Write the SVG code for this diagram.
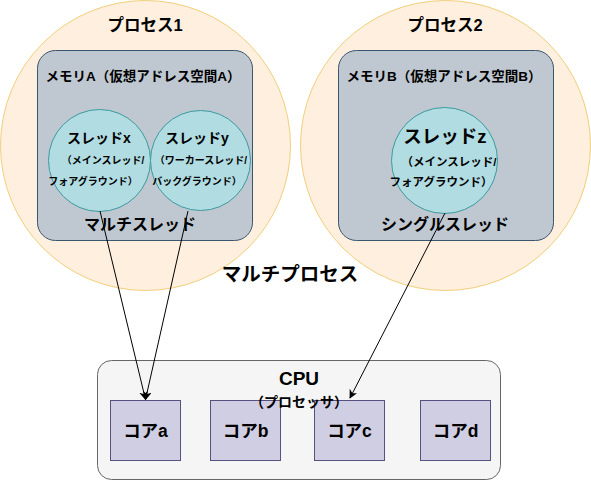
<svg xmlns="http://www.w3.org/2000/svg" width="591" height="481" viewBox="0 0 591 481">
<style>
text{font-family:"Liberation Sans","Noto Sans CJK JP",sans-serif;font-weight:bold;fill:#000;text-anchor:middle}
.proc{fill:#ffefdf;stroke:#f0cf7a;stroke-width:1}
.mem{fill:#bfc8d1;stroke:#3a556e;stroke-width:1}
.thr{fill:#b1dce2;stroke:#3a9a9e;stroke-width:1}
.cpu{fill:#f5f5f5;stroke:#666;stroke-width:1}
.core{fill:#d0cee2;stroke:#56517e;stroke-width:1}
.edge{stroke:#000;stroke-width:1;fill:none}
</style>
<defs>
<marker id="arr" viewBox="0 0 10 10" refX="9" refY="5" markerWidth="9" markerHeight="9" orient="auto" markerUnits="userSpaceOnUse">
<path d="M0,0 L10,5 L0,10 L3,5 Z" fill="#000"/>
</marker>
</defs>
<g id="process1">
<circle class="proc" cx="145.5" cy="145.5" r="145"/>
<text x="145" y="31" font-size="16.5">プロセス1</text>
</g>
<g id="process2">
<circle class="proc" cx="445.5" cy="145.5" r="145"/>
<text x="445" y="31" font-size="16.5">プロセス2</text>
</g>
<g id="multiprocess-label">
<text x="290" y="281" font-size="19.5">マルチプロセス</text>
</g>
<g id="memoryA">
<rect class="mem" x="37.5" y="50.5" width="215" height="190" rx="18"/>
<text x="143" y="81" font-size="13.5">メモリA（仮想アドレス空間A）</text>
<text x="140" y="230" font-size="16">マルチスレッド</text>
</g>
<g id="memoryB">
<rect class="mem" x="338.5" y="50.5" width="215" height="190" rx="18"/>
<text x="444" y="81" font-size="13.5">メモリB（仮想アドレス空間B）</text>
<text x="445" y="230" font-size="16">シングルスレッド</text>
</g>
<g id="threadX">
<circle class="thr" cx="99.5" cy="160.5" r="51"/>
<text x="99" y="143" font-size="14">スレッドx</text>
<text x="103" y="164" font-size="10">（メインスレッド/</text>
<text x="93" y="185" font-size="10">フォアグラウンド）</text>
</g>
<g id="threadY">
<circle class="thr" cx="200.5" cy="160.5" r="50"/>
<text x="197" y="143" font-size="14">スレッドy</text>
<text x="201" y="164" font-size="10">（ワーカースレッド/</text>
<text x="197" y="185" font-size="10">バックグラウンド）</text>
</g>
<g id="threadZ">
<circle class="thr" cx="444.5" cy="160.5" r="53"/>
<text x="445" y="143" font-size="18.5">スレッドz</text>
<text x="449" y="166" font-size="11.5">（メインスレッド/</text>
<text x="441" y="186" font-size="11.5">フォアグラウンド）</text>
</g>
<g id="cpu">
<rect class="cpu" x="97.5" y="360.5" width="403" height="119" rx="14"/>
</g>
<g id="coreA">
<rect class="core" x="110.5" y="400.5" width="70" height="60"/>
<text x="145.5" y="437" font-size="17.5">コアa</text>
</g>
<g id="coreB">
<rect class="core" x="210.5" y="400.5" width="70" height="60"/>
<text x="245.5" y="437" font-size="17.5">コアb</text>
</g>
<g id="coreC">
<rect class="core" x="314.5" y="400.5" width="70" height="60"/>
<text x="349.5" y="437" font-size="17.5">コアc</text>
</g>
<g id="coreD">
<rect class="core" x="420.5" y="400.5" width="70" height="60"/>
<text x="455.5" y="437" font-size="17.5">コアd</text>
</g>
<g id="cpu-label">
<text x="299" y="385" font-size="19">CPU</text>
<text x="299" y="407" font-size="14">（プロセッサ）</text>
</g>
<g id="connectors">
<line class="edge" x1="100" y1="211" x2="145.5" y2="399.5" marker-end="url(#arr)"/>
<line class="edge" x1="188" y1="211" x2="145.5" y2="399.5" marker-end="url(#arr)"/>
<line class="edge" x1="445" y1="213" x2="350" y2="398" marker-end="url(#arr)"/>
</g>
</svg>
